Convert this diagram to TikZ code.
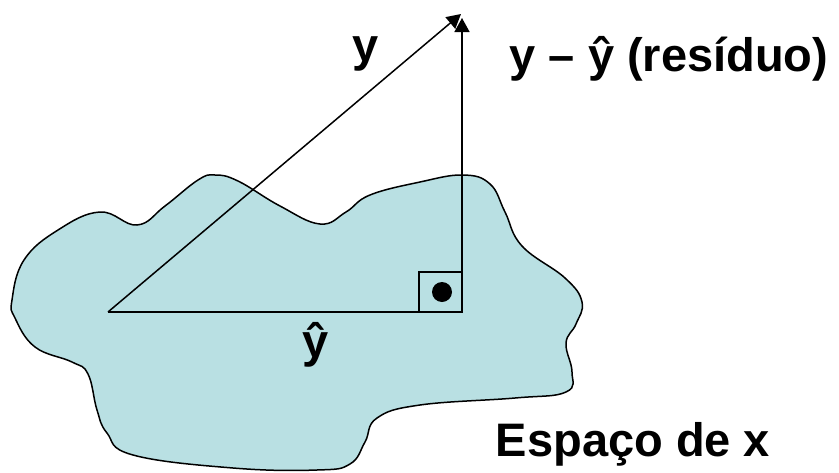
\documentclass[tikz,border=0pt]{standalone}
\usepackage{fontspec}
\setmainfont{Liberation Sans}
\usetikzlibrary{arrows.meta, positioning}
\definecolor{espaco}{RGB}{185,224,227}
\tikzset{
  >={Triangle[length=14pt,width=15pt]},
  % regione e vettori
  regiao/.style={draw=black,line width=1.5pt,fill=espaco},
  vetor/.style={->,line width=1.5pt},
  reta/.style={line width=2pt},
  % etichette
  rotulo/.style={font=\fontsize{47}{50}\selectfont\bfseries,inner sep=0pt,anchor=base}
}

\begin{document}
\begin{tikzpicture}[x=1pt,y=-1pt]
        \useasboundingbox (0,0) rectangle (839,472);
        % Spazio di x
        \draw[regiao] plot[smooth cycle, tension=0.7] coordinates {
          (12,300) (24,260) (58,230) (100,212) (137,225) (165,206)
          (198,180) (215,175) (238,181) (280,206) (320,224) (346,212) (370,195)
          (420,182) (463,175) (490,184) (505,212) (522,246) (565,278) (582,302)
          (576,324) (566,343) (572,372) (566,392) (515,398) (420,405) (377,418)
          (365,442) (350,464) (317,470) (233,468) (133,455) (107,433) (97,410)
          (88,374) (72,362) (35,347) (15,318)};
        % Vettori
        \coordinate (O) at (108,312);
        \coordinate (P) at (462,312);
        \coordinate (Y) at (461,14);
        \coordinate (R) at (462,18);
        \draw[vetor] (O) -- (Y);
        \draw[reta] (O) -- (P);
        \draw[vetor] (P) -- (R);
        % Angolo retto
        \draw[reta] (P) rectangle ++(-43,-40);
        \fill (442,292) circle (10pt);
        % Etichette
        \node[rotulo] (ly) at (366,61) {y};
        \node[rotulo] (lres) at (669,71) {y – ŷ (resíduo)};
        \node[rotulo] (lhat) at (316,357) {ŷ};
        \node[rotulo] (lesp) at (633,456) {Espaço de x};
      \end{tikzpicture}
\end{document}
